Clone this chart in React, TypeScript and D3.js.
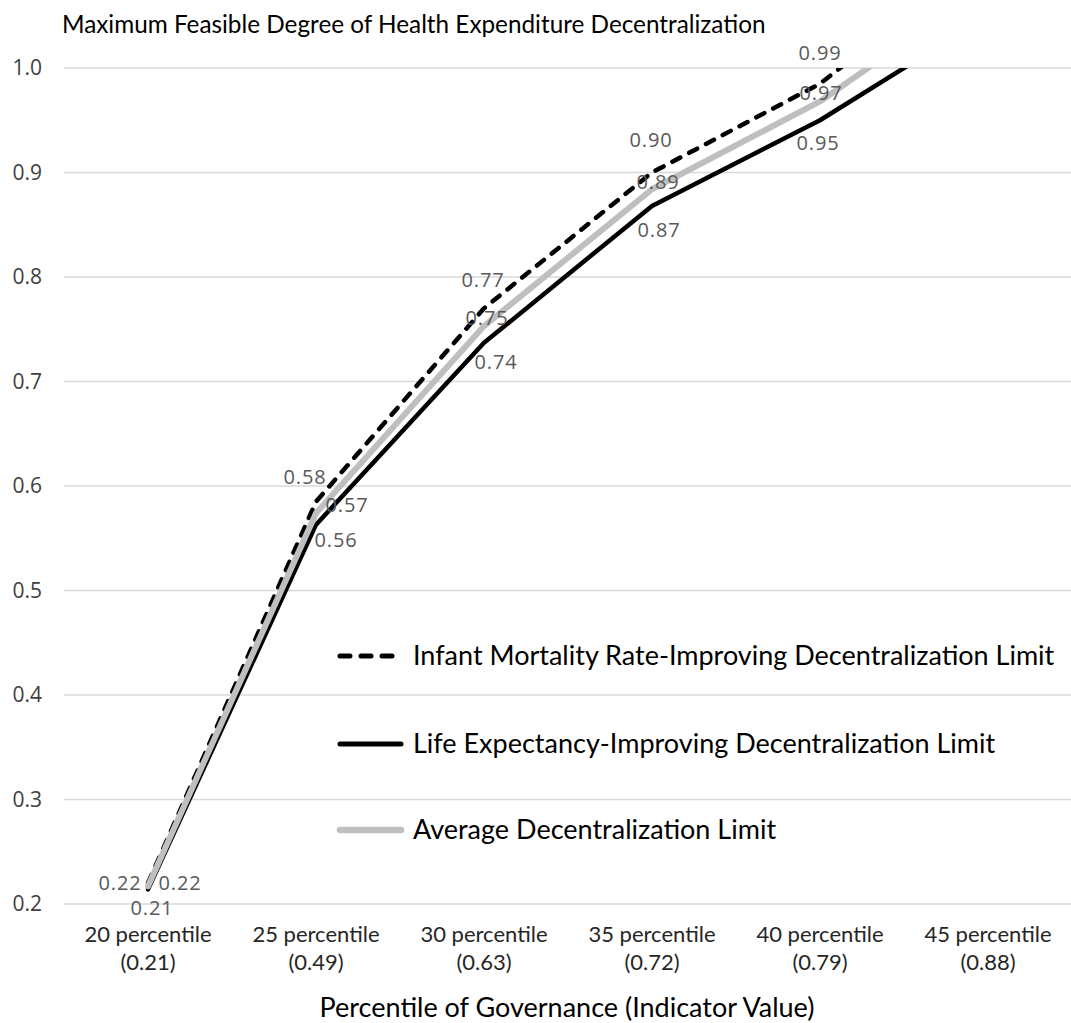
import React from "react";
import * as d3 from "d3";

const categories = ["20 percentile", "25 percentile", "30 percentile", "35 percentile", "40 percentile", "45 percentile"];
const indicatorValues = ["(0.21)", "(0.49)", "(0.63)", "(0.72)", "(0.79)", "(0.88)"];
const imrValues = [0.22, 0.585, 0.77, 0.9, 0.985, 1.11];
const leValues = [0.214, 0.563, 0.737, 0.868, 0.95, 1.05];
const avgValues = [0.217, 0.574, 0.753, 0.884, 0.968, 1.08];
const imrLabels = ["0.22", "0.58", "0.77", "0.90", "0.99", ""];
const leLabels = ["0.21", "0.56", "0.74", "0.87", "0.95", ""];
const avgLabels = ["0.22", "0.57", "0.75", "0.89", "0.97", ""];
const yTicks = [0.2, 0.3, 0.4, 0.5, 0.6, 0.7, 0.8, 0.9, 1.0];
const seriesNames = [
  "Infant Mortality Rate-Improving Decentralization Limit",
  "Life Expectancy-Improving Decentralization Limit",
  "Average Decentralization Limit",
];

// label offsets (layout only)
const imrOff = [[-28, 0], [-11, -25], [-1, -28], [-1, -33], [0, -31]];
const leOff = [[4, 19], [20, 15], [12, 19], [7, 24], [-2, 23]];
const avgOff = [[32, -3], [31, -8], [3, -8], [6, -7], [1, -8]];

const W = 1071;
const H = 1023;
const left = 64;
const right = 1072;
const top = 68;
const bottom = 904;

export default function App() {
  const x = d3.scaleBand<string>().domain(categories).range([left, right]).padding(0);
  const y = d3.scaleLinear().domain([0.2, 1.0]).range([bottom, top]);
  const cx = (i: number) => (x(categories[i]) as number) + x.bandwidth() / 2;
  const line = d3
    .line<number>()
    .x((_, i) => cx(i))
    .y((v) => y(v));

  const series = [
    { vals: imrValues, labels: imrLabels, off: imrOff, stroke: "#000", width: 4.5, dash: "9,10", cap: "round" },
    { vals: leValues, labels: leLabels, off: leOff, stroke: "#000", width: 4.5, dash: null, cap: "round" },
    { vals: avgValues, labels: avgLabels, off: avgOff, stroke: "#bfbfbf", width: 6, dash: null, cap: "round" },
  ];

  const legendY = [656, 744, 830];

  return (
    <svg width={W} height={H} style={{ position: "absolute", left: 0, top: 0, background: "#fff" }}>
      <defs>
        <clipPath id="plotClip">
          <rect x={left} y={top} width={right - left} height={H - top} />
        </clipPath>
      </defs>
      <rect x={0} y={0} width={W} height={H} fill="#fff" />
      <text x={62} y={33} fontFamily="Lato" fontSize={24.3} fill="#000">
        Maximum Feasible Degree of Health Expenditure Decentralization
      </text>
      {yTicks.map((t) => (
        <g key={t}>
          <line x1={left} x2={W} y1={y(t)} y2={y(t)} stroke="#d9d9d9" strokeWidth={1.3} />
          <text
            x={42}
            y={y(t)}
            dy="0.35em"
            textAnchor="end"
            fontFamily="Open Sans"
            fontSize={21}
            fill="#404040"
          >
            {t.toFixed(1)}
          </text>
        </g>
      ))}
      {categories.map((c, i) => (
        <g key={c} fontFamily="Lato" fontSize={22} fill="#262626" textAnchor="middle">
          <text x={cx(i)} y={942}>{c}</text>
          <text x={cx(i)} y={970}>{indicatorValues[i]}</text>
        </g>
      ))}
      <text x={567} y={1017} textAnchor="middle" fontFamily="Lato" fontSize={27} fill="#000">
        Percentile of Governance (Indicator Value)
      </text>
      <g clipPath="url(#plotClip)">
        {series.map((s, k) => (
          <path
            key={k}
            d={line(s.vals) as string}
            fill="none"
            stroke={s.stroke}
            strokeWidth={s.width}
            strokeDasharray={s.dash ?? undefined}
            strokeLinecap={s.cap as any}
            strokeLinejoin="round"
          />
        ))}
      </g>
      {series.map((s, k) =>
        s.vals.map((v, i) =>
          s.labels[i] && v <= 1.0 ? (
            <text
              key={`${k}-${i}`}
              x={cx(i) + s.off[i][0]}
              y={y(v) + s.off[i][1]}
              dy="0.35em"
              textAnchor="middle"
              fontFamily="Open Sans"
              fontSize={20}
              letterSpacing={0.8}
              fill="#595959"
            >
              {s.labels[i]}
            </text>
          ) : null
        )
      )}
      {series.map((s, k) => (
        <g key={`lg${k}`}>
          <line
            x1={340}
            x2={401}
            y1={legendY[k]}
            y2={legendY[k]}
            stroke={s.stroke}
            strokeWidth={s.width + 0.5}
            strokeDasharray={s.dash ? "10,11" : undefined}
            strokeLinecap="round"
          />
          <text x={413} y={legendY[k]} dy="0.35em" fontFamily="Lato" fontSize={27} fill="#000">
            {seriesNames[k]}
          </text>
        </g>
      ))}
    </svg>
  );
}
